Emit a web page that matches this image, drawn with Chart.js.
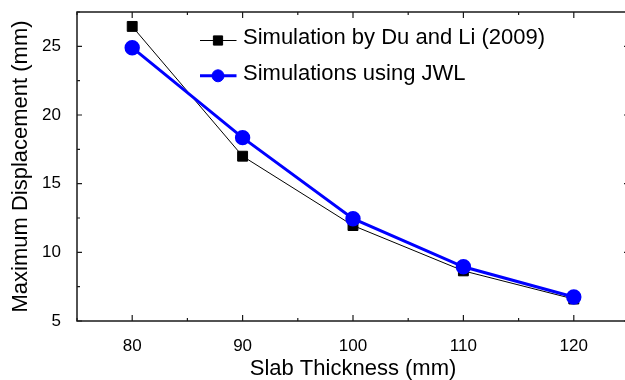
<!DOCTYPE html>
<html>
<head>
<meta charset="utf-8">
<script src="https://cdn.jsdelivr.net/npm/chart.js@4.4.0/dist/chart.umd.min.js"></script>
<style>
  html, body { margin: 0; padding: 0; background: #fff; overflow: hidden; }
  canvas { display: block; }
</style>
</head>
<body>
<canvas id="chart" width="630" height="380"></canvas>
<script>
const thickness = [80, 90, 100, 110, 120];
const duLi = [26.45, 17.0, 11.95, 8.65, 6.6];
const jwl = [24.9, 18.35, 12.45, 8.95, 6.75];
const xTicks = [80, 90, 100, 110, 120];
const yTicks = [5, 10, 15, 20, 25];

Chart.defaults.font.family = "'Liberation Sans', Arial, sans-serif";
Chart.defaults.color = "#000";

// box frame with inward major/minor ticks on all four sides
const framePlugin = {
  id: "frame",
  beforeDatasetsDraw(chart) {
    const { ctx, chartArea: a, scales } = chart;
    const xs = scales.x, ys = scales.y;
    ctx.save();
    ctx.strokeStyle = "#1a1a1a";
    ctx.lineWidth = 1.5;
    ctx.strokeRect(a.left, a.top, a.right - a.left, a.bottom - a.top);
    ctx.lineWidth = 1.2;
    ctx.beginPath();
    for (let v = xs.min; v <= xs.max; v += 5) {
      const len = xTicks.includes(v) ? 6 : 3;
      const px = xs.getPixelForValue(v);
      ctx.moveTo(px, a.bottom); ctx.lineTo(px, a.bottom - len);
      ctx.moveTo(px, a.top); ctx.lineTo(px, a.top + len);
    }
    for (let v = ys.min; v <= ys.max; v += 2.5) {
      const len = yTicks.includes(v) ? 5 : 3;
      const py = ys.getPixelForValue(v);
      ctx.moveTo(a.left, py); ctx.lineTo(a.left + len, py);
      ctx.moveTo(a.right, py); ctx.lineTo(a.right - len, py);
    }
    ctx.stroke();
    ctx.restore();
  }
};

// legend drawn inside the plot: line + marker, then label
const legendPlugin = {
  id: "insideLegend",
  afterDatasetsDraw(chart) {
    const { ctx } = chart;
    ctx.save();
    chart.data.datasets.forEach((ds, i) => {
      const y = 40.5 + 35.3 * i;
      ctx.strokeStyle = ds.borderColor;
      ctx.lineWidth = ds.borderWidth;
      ctx.beginPath();
      ctx.moveTo(200, y);
      ctx.lineTo(236.5, y);
      ctx.stroke();
      ctx.fillStyle = ds.pointBackgroundColor;
      ctx.strokeStyle = ds.pointBorderColor;
      ctx.lineWidth = 1;
      Chart.helpers.drawPoint(ctx, {
        pointStyle: ds.pointStyle,
        radius: ds.pointStyle === "rect" ? 6.5 : 6,
        rotation: 0,
        borderWidth: 1
      }, 218, y);
      ctx.fillStyle = "#000";
      ctx.font = "22px 'Liberation Sans', Arial, sans-serif";
      ctx.textBaseline = "alphabetic";
      ctx.fillText(ds.label, 243, y + 3.9);
    });
    ctx.restore();
  }
};

const ctx = document.getElementById("chart").getContext("2d");
new Chart(ctx, {
  type: "line",
  data: {
    datasets: [
      {
        label: "Simulation by Du and Li (2009)",
        data: thickness.map((t, i) => ({ x: t, y: duLi[i] })),
        borderColor: "#000",
        backgroundColor: "#000",
        pointBackgroundColor: "#000",
        pointBorderColor: "#000",
        borderWidth: 1,
        pointStyle: "rect",
        pointRadius: 7,
        tension: 0,
        order: 1
      },
      {
        label: "Simulations using JWL",
        data: thickness.map((t, i) => ({ x: t, y: jwl[i] })),
        borderColor: "#0000ff",
        backgroundColor: "#0000ff",
        pointBackgroundColor: "#0000ff",
        pointBorderColor: "#0000ff",
        borderWidth: 3,
        pointStyle: "circle",
        pointRadius: 6.2,
        tension: 0,
        order: 0
      }
    ]
  },
  options: {
    responsive: false,
    animation: false,
    layout: { autoPadding: false, padding: { top: 12, right: 1, left: 0, bottom: 0 } },
    scales: {
      x: {
        type: "linear",
        min: 75,
        max: 125,
        afterBuildTicks: (s) => { s.ticks = xTicks.map((v) => ({ value: v })); },
        afterFit: (s) => { s.height = 59; s.paddingLeft = 0; s.paddingRight = 0; },
        grid: { display: false },
        border: { display: false },
        ticks: { font: { size: 17 }, padding: 7, maxRotation: 0 },
        title: {
          display: true,
          text: "Slab Thickness (mm)",
          font: { size: 22, lineHeight: 1 },
          padding: { top: 0, bottom: 0 }
        }
      },
      y: {
        min: 5,
        max: 27.5,
        afterBuildTicks: (s) => { s.ticks = yTicks.map((v) => ({ value: v })); },
        afterFit: (s) => { s.width = 77; s.paddingTop = 0; s.paddingBottom = 0; },
        grid: { display: false },
        border: { display: false },
        ticks: { font: { size: 17 }, padding: 8 },
        title: {
          display: true,
          text: "Maximum Displacement (mm)",
          font: { size: 22, lineHeight: 1 },
          padding: { top: 10, bottom: 0 }
        }
      }
    },
    plugins: {
      legend: { display: false },
      tooltip: { enabled: false }
    }
  },
  plugins: [framePlugin, legendPlugin]
});
</script>
</body>
</html>
